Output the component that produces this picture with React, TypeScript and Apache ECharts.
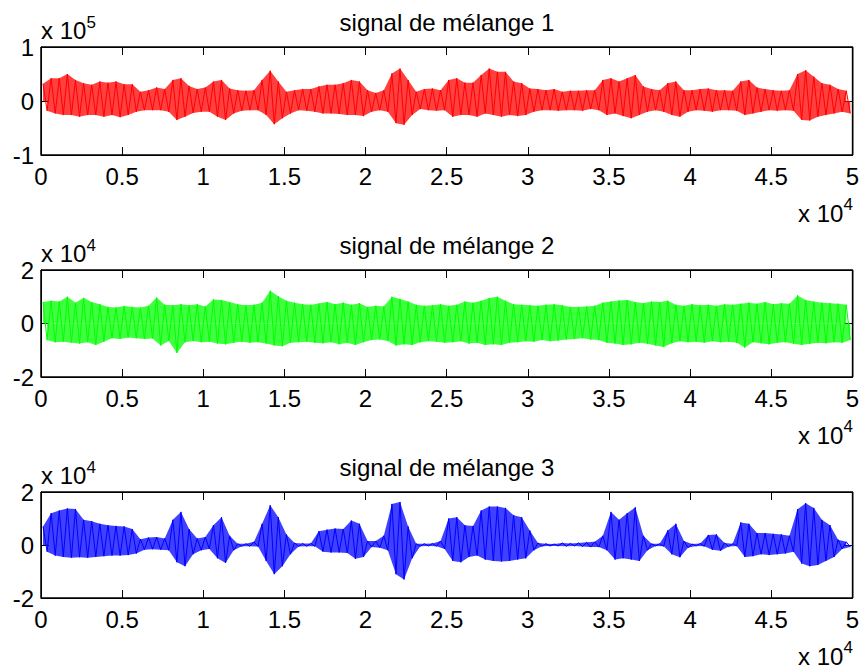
import { useEffect, useRef } from "react";
import * as echarts from "echarts";

// Each signal is summarised by envelope columns: one peak and one trough
// for every block of COLUMN samples, 50 000 samples in total.
const SAMPLES = 50000;
const COLUMN = 500;

const titles = ["signal de mélange 1", "signal de mélange 2", "signal de mélange 3"];
const colors = ["#ff0000", "#00ff00", "#0000ff"];
const yLimits = [100000, 20000, 20000];
const yExponents = [5, 4, 4];
const xExponent = 4;

// mixture 1 (amplitude up to ~6e4)
const mix1Hi = [
  32000, 42000, 42000, 50000, 39000, 33000, 30000, 36000, 34000, 36000,
  31000, 31000, 17000, 20000, 25000, 22000, 39000, 42000, 28000, 22000,
  25000, 36000, 39000, 23000, 20000, 19000, 20000, 39000, 56000, 36000,
  17000, 20000, 22000, 22000, 27000, 30000, 30000, 33000, 39000, 36000,
  20000, 15000, 20000, 51000, 60000, 39000, 17000, 22000, 23000, 20000,
  39000, 42000, 34000, 34000, 48000, 60000, 54000, 54000, 36000, 33000,
  23000, 22000, 20000, 22000, 17000, 19000, 19000, 20000, 20000, 39000,
  42000, 36000, 42000, 48000, 27000, 22000, 20000, 33000, 36000, 20000,
  20000, 22000, 23000, 20000, 20000, 19000, 36000, 39000, 25000, 22000,
  20000, 19000, 20000, 50000, 57000, 45000, 33000, 30000, 22000, 19000,
];
const mix1Lo = [
  -18000, -23000, -26000, -26000, -29000, -26000, -26000, -29000, -26000, -30000,
  -26000, -20000, -17000, -17000, -17000, -20000, -35000, -29000, -22000, -20000,
  -20000, -29000, -35000, -23000, -18000, -17000, -17000, -26000, -43000, -32000,
  -23000, -17000, -18000, -20000, -23000, -23000, -24000, -26000, -26000, -28000,
  -20000, -17000, -20000, -41000, -44000, -26000, -15000, -17000, -18000, -17000,
  -29000, -26000, -26000, -29000, -23000, -26000, -29000, -26000, -28000, -26000,
  -20000, -17000, -17000, -18000, -17000, -17000, -18000, -15000, -17000, -26000,
  -23000, -28000, -32000, -26000, -20000, -17000, -20000, -26000, -29000, -20000,
  -17000, -18000, -20000, -17000, -17000, -18000, -26000, -23000, -20000, -17000,
  -18000, -17000, -18000, -35000, -36000, -29000, -26000, -23000, -20000, -23000,
];

// mixture 2 (amplitude ~7e3, peaks near 1.2e4)
const mix2Hi = [
  8000, 8500, 8200, 10000, 7800, 9600, 8000, 7200, 6200, 6000,
  6500, 6200, 6000, 6600, 9700, 7000, 6800, 7200, 6800, 7200,
  6400, 9000, 8800, 8000, 7200, 6800, 7000, 7800, 12200, 10200,
  8500, 7800, 7200, 7000, 7500, 8000, 7200, 7800, 7000, 7600,
  6200, 6600, 6400, 10000, 9200, 8200, 7000, 6600, 6800, 7200,
  6600, 7000, 8200, 7800, 8500, 9500, 10000, 8500, 7200, 7000,
  6800, 6600, 7000, 7200, 6800, 6200, 6200, 6400, 6600, 7800,
  8200, 8600, 8800, 8000, 7600, 8200, 8000, 8500, 7000, 6600,
  7200, 6800, 7000, 6600, 7200, 7000, 7400, 7800, 7400, 8000,
  7200, 7600, 7400, 10500, 8800, 8200, 7800, 7600, 7400, 7000,
];
const mix2Lo = [
  -6200, -7000, -6800, -7200, -7500, -7000, -8000, -6800, -5500, -5800,
  -5200, -5500, -5800, -5600, -8200, -6500, -11000, -7000, -6500, -7000,
  -6800, -7500, -7800, -7200, -6800, -7200, -7000, -7500, -8200, -8500,
  -7200, -7000, -6800, -7200, -7400, -7000, -7800, -7200, -8000, -7000,
  -6200, -6000, -6500, -8200, -7800, -8000, -7000, -6600, -6800, -7200,
  -7000, -6600, -7500, -7200, -8000, -7800, -8000, -7200, -7000, -6600,
  -6800, -6200, -6600, -6400, -6000, -5800, -5500, -6000, -6200, -7200,
  -7500, -8000, -7800, -7200, -7600, -8200, -8800, -7400, -6600, -7000,
  -6800, -7200, -6600, -7000, -6800, -7200, -9000, -7000, -7400, -7800,
  -7200, -7000, -7600, -8000, -7600, -7200, -7400, -7000, -7200, -6200,
];

// mixture 3 (speech-like bursts separated by near silence)
const mix3Hi = [
  7000, 12000, 13000, 13800, 13600, 9500, 9000, 8000, 7500, 7200,
  7000, 6000, 2200, 2800, 3000, 2500, 9500, 12500, 6000, 2500,
  3000, 7500, 10500, 3500, 500, 500, 1200, 8000, 15000, 10500,
  4000, 800, 600, 600, 5200, 5800, 6200, 6000, 9200, 8000,
  1500, 1500, 3500, 15500, 16200, 7000, 500, 500, 600, 1500,
  10000, 10500, 7500, 7200, 13000, 14500, 14500, 14000, 11200, 10500,
  5500, 800, 500, 400, 800, 600, 800, 1000, 1200, 3500,
  12500, 9500, 12000, 14200, 3500, 500, 500, 5500, 8000, 1500,
  400, 600, 3800, 4000, 800, 500, 8500, 8000, 4500, 4500,
  4200, 4000, 3500, 13500, 15800, 14000, 9500, 7500, 2000, 1200,
];
const mix3Lo = [
  -2500, -4000, -4500, -4800, -4600, -4800, -4500, -4200, -4000, -4000,
  -3800, -3200, -1800, -1600, -1800, -2000, -6500, -8000, -3500, -2000,
  -1500, -5000, -6800, -2000, -500, -500, -600, -6000, -11000, -8000,
  -3500, -600, -500, -500, -2500, -2800, -2800, -3000, -5200, -4500,
  -800, -1000, -2000, -11000, -13000, -5000, -500, -400, -500, -1500,
  -6000, -6500, -4500, -4000, -5500, -6000, -6200, -6000, -5500, -5000,
  -2000, -500, -400, -400, -500, -400, -600, -800, -800, -2000,
  -5500, -5000, -5500, -6000, -2000, -400, -500, -3500, -4600, -1000,
  -400, -500, -1800, -2200, -600, -400, -4500, -4200, -3500, -3800,
  -3500, -3200, -2500, -7000, -8000, -7500, -6000, -4500, -1500, -800,
];

const highs = [mix1Hi, mix2Hi, mix3Hi];
const lows = [mix1Lo, mix2Lo, mix3Lo];

// sample positions of the peak and the trough inside each column
const peakAt = (i: number) => i * COLUMN + COLUMN * 0.25;
const troughAt = (i: number) => i * COLUMN + COLUMN * 0.75;

function waveform(hi: number[], lo: number[]) {
  const pts: number[][] = [];
  hi.forEach((h, i) => {
    pts.push([peakAt(i), h]);
    pts.push([troughAt(i), lo[i]]);
  });
  return pts;
}

const FONT = '"Liberation Sans", Arial, Helvetica, sans-serif';
const LABEL_SIZE = 24;
const SUP_SIZE = 17;
const PLOT_LEFT = 41;
const PLOT_WIDTH = 812;
const plotTops = [47, 270, 492];
const plotHeights = [108, 107, 106];

// fresh style objects for every axis
const boxLine = () => ({ show: true, onZero: false, lineStyle: { color: "#000", width: 1 } });
const boxTick = () => ({ show: true, inside: true, length: 8, lineStyle: { color: "#000", width: 1 } });

export default function App() {
  const ref = useRef<HTMLDivElement>(null);

  useEffect(() => {
    if (!ref.current) return;
    const chart = echarts.init(ref.current, undefined, { renderer: "svg" });

    const grid: any[] = [];
    const xAxis: any[] = [];
    const yAxis: any[] = [];
    const series: any[] = [];
    const graphic: any[] = [];

    const central = (baseline: number, size: number) => baseline - 0.3465 * size;

    titles.forEach((title, k) => {
      const top = plotTops[k];
      const height = plotHeights[k];
      const bottom = top + height;
      grid.push({
        left: PLOT_LEFT,
        top,
        width: PLOT_WIDTH,
        height,
        containLabel: false,
        show: true,
        borderColor: "#000",
        borderWidth: 1,
      });

      xAxis.push({
        gridIndex: k,
        type: "value",
        position: "bottom",
        min: 0,
        max: SAMPLES,
        interval: 5000,
        axisLine: boxLine(),
        axisTick: boxTick(),
        splitLine: { show: false },
        axisLabel: {
          color: "#000",
          fontSize: LABEL_SIZE,
          fontFamily: FONT,
          margin: 9,
          formatter: (v: number) => String(v / 10 ** xExponent),
        },
      });
      xAxis.push({
        gridIndex: k,
        type: "value",
        position: "top",
        min: 0,
        max: SAMPLES,
        interval: 5000,
        axisLine: boxLine(),
        axisTick: boxTick(),
        splitLine: { show: false },
        axisLabel: { show: false },
      });

      const lim = yLimits[k];
      yAxis.push({
        gridIndex: k,
        type: "value",
        position: "left",
        min: -lim,
        max: lim,
        interval: lim,
        axisLine: boxLine(),
        axisTick: boxTick(),
        splitLine: { show: false },
        axisLabel: {
          color: "#000",
          fontSize: LABEL_SIZE,
          fontFamily: FONT,
          margin: 7,
          formatter: (v: number) => String(v / 10 ** yExponents[k]),
        },
      });
      yAxis.push({
        gridIndex: k,
        type: "value",
        position: "right",
        min: -lim,
        max: lim,
        interval: lim,
        axisLine: boxLine(),
        axisTick: boxTick(),
        splitLine: { show: false },
        axisLabel: { show: false },
      });

      const common = {
        type: "line",
        xAxisIndex: 2 * k,
        yAxisIndex: 2 * k,
        showSymbol: false,
        symbol: "none",
        silent: true,
        clip: true,
        emphasis: { disabled: true },
      };

      // envelope: upper peaks and lower troughs shaded down/up to zero
      series.push({
        ...common,
        data: highs[k].map((h, i) => [peakAt(i), h]),
        lineStyle: { width: 0, opacity: 0 },
        areaStyle: { color: colors[k], opacity: 0.75 },
      });
      series.push({
        ...common,
        data: lows[k].map((l, i) => [troughAt(i), l]),
        lineStyle: { width: 0, opacity: 0 },
        areaStyle: { color: colors[k], opacity: 0.75 },
      });
      // oscillation strokes
      series.push({
        ...common,
        data: waveform(highs[k], lows[k]),
        lineStyle: { color: colors[k], width: 1 },
      });

      // axes box drawn over everything
      graphic.push({
        type: "rect",
        silent: true,
        z: 100,
        shape: { x: PLOT_LEFT, y: top, width: PLOT_WIDTH, height },
        style: { fill: "none", stroke: "#000", lineWidth: 1 },
      });

      // title
      graphic.push({
        type: "text",
        x: PLOT_LEFT + PLOT_WIDTH / 2,
        y: central(top - 16, LABEL_SIZE),
        style: { text: title, fill: "#000", font: `${LABEL_SIZE}px ${FONT}`, align: "center", verticalAlign: "middle" },
      });

      // y exponent, top left
      const yBaseLine = top - 8;
      graphic.push({
        type: "text",
        x: PLOT_LEFT,
        y: central(yBaseLine, LABEL_SIZE),
        style: { text: "x 10", fill: "#000", font: `${LABEL_SIZE}px ${FONT}`, align: "left", verticalAlign: "middle" },
      });
      graphic.push({
        type: "text",
        x: PLOT_LEFT + 45.5,
        y: central(yBaseLine - 11, SUP_SIZE),
        style: { text: String(yExponents[k]), fill: "#000", font: `${SUP_SIZE}px ${FONT}`, align: "left", verticalAlign: "middle" },
      });

      // x exponent, bottom right
      const xBaseLine = bottom + 67;
      graphic.push({
        type: "text",
        x: 798,
        y: central(xBaseLine, LABEL_SIZE),
        style: { text: "x 10", fill: "#000", font: `${LABEL_SIZE}px ${FONT}`, align: "left", verticalAlign: "middle" },
      });
      graphic.push({
        type: "text",
        x: 798 + 45.5,
        y: central(xBaseLine - 12, SUP_SIZE),
        style: { text: String(xExponent), fill: "#000", font: `${SUP_SIZE}px ${FONT}`, align: "left", verticalAlign: "middle" },
      });
    });

    chart.setOption({
      animation: false,
      backgroundColor: "#fff",
      textStyle: { fontFamily: FONT },
      grid,
      xAxis,
      yAxis,
      series,
      graphic,
    });

    return () => chart.dispose();
  }, []);

  return (
    <div
      ref={ref}
      style={{ position: "fixed", left: 0, top: 0, width: 862, height: 671, background: "#fff" }}
    />
  );
}
